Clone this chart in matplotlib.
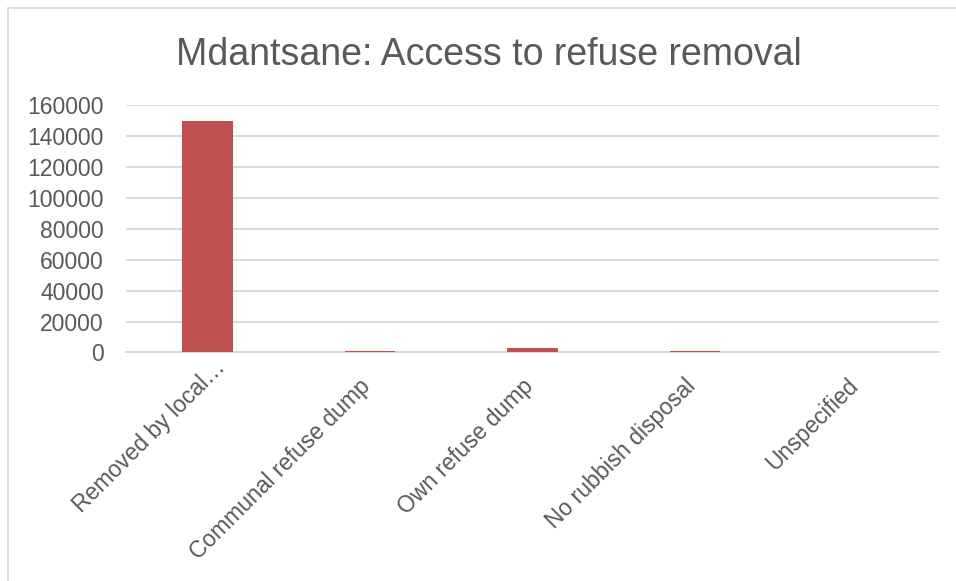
import matplotlib.pyplot as plt
import matplotlib.patches as patches
import matplotlib.transforms as mtransforms
import numpy as np

# --- Refuse removal counts, Mdantsane ---
categories = [
    'Removed by local…',
    'Communal refuse dump',
    'Own refuse dump',
    'No rubbish disposal',
    'Unspecified',
]
households = [149600, 800, 3100, 850, 0]
y_ticks = [0, 20000, 40000, 60000, 80000, 100000, 120000, 140000, 160000]

text_color = '#595959'
grid_color = '#D9D9D9'
bar_color = '#C0504D'

plt.rcParams['font.family'] = ['Liberation Sans', 'DejaVu Sans']

fig = plt.figure(figsize=(9.56, 5.81), dpi=100)
ax = fig.add_axes([0.1318, 0.3933, 0.8504, 0.4255])

x = np.arange(len(categories))
ax.bar(x, households, width=0.31, color=bar_color, zorder=3)

ax.set_xlim(-0.5, len(categories) - 0.5)
ax.set_ylim(0, 160000)
ax.set_yticks(y_ticks)
ax.set_yticklabels([str(v) for v in y_ticks], fontsize=16.5, color=text_color)
ax.tick_params(axis='y', length=0, pad=16)
ax.yaxis.grid(True, color=grid_color, linewidth=1.4, zorder=0)

for side in ['top', 'right', 'left']:
    ax.spines[side].set_visible(False)
ax.spines['bottom'].set_color(grid_color)
ax.spines['bottom'].set_linewidth(1.4)
ax.spines['bottom'].set_zorder(2)

# Category labels, slanted at 45 degrees and ending just under each category
ax.set_xticks(x)
ax.set_xticklabels(categories, fontsize=16.5, color=text_color,
                   rotation=45, ha='right', va='center', rotation_mode='anchor')
ax.tick_params(axis='x', length=0, pad=0)
for i, lbl in enumerate(ax.get_xticklabels()):
    dx, dy = (15, -11) if i == 0 else (-3, -30)  # the truncated label sits higher
    shift = mtransforms.ScaledTranslation(dx / 100, dy / 100, fig.dpi_scale_trans)
    lbl.set_transform(lbl.get_transform() + shift)

# Title
fig.text(489 / 956, 1 - 65 / 581, 'Mdantsane: Access to refuse removal',
         fontsize=27, color=text_color, ha='center', va='baseline')

# Chart area border
fig.patches.append(patches.Rectangle((8 / 956, -0.1), 1.2, 1 - 8 / 581 + 0.1,
                                     transform=fig.transFigure, fill=False,
                                     edgecolor=grid_color, linewidth=1.3))

fig.savefig('out.png', dpi=100)
